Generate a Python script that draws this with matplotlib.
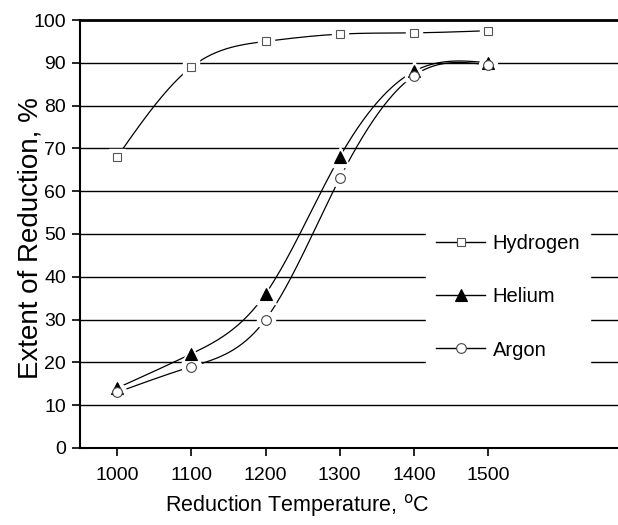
import numpy as np
import matplotlib.pyplot as plt

plt.rcParams['font.family'] = ['Liberation Sans', 'DejaVu Sans']

# reduction temperature (deg C) and extent of reduction (%)
temps = [1000, 1100, 1200, 1300, 1400, 1500]
hydrogen = [68, 89, 95, 96.7, 97, 97.5]
helium = [14, 22, 36, 68, 88, 90]
argon = [13, 19, 30, 63, 87, 89.5]


def natural_spline(x, y, n=300):
	"""Smooth curve through the points (natural cubic spline)"""
	x = np.asarray(x, float)
	y = np.asarray(y, float)
	k = len(x)
	h = np.diff(x)
	A = np.zeros((k, k))
	b = np.zeros(k)
	A[0, 0] = A[-1, -1] = 1
	for i in range(1, k - 1):
		A[i, i - 1] = h[i - 1]
		A[i, i] = 2 * (h[i - 1] + h[i])
		A[i, i + 1] = h[i]
		b[i] = 6 * ((y[i + 1] - y[i]) / h[i] - (y[i] - y[i - 1]) / h[i - 1])
	M = np.linalg.solve(A, b)
	xs = np.linspace(x[0], x[-1], n)
	idx = np.clip(np.searchsorted(x, xs) - 1, 0, k - 2)
	x0, x1 = x[idx], x[idx + 1]
	hh = x1 - x0
	t0, t1 = x1 - xs, xs - x0
	ys = (M[idx] * t0**3 + M[idx + 1] * t1**3) / (6 * hh) \
		+ (y[idx] / hh - M[idx] * hh / 6) * t0 \
		+ (y[idx + 1] / hh - M[idx + 1] * hh / 6) * t1
	return xs, ys


fig = plt.figure(figsize=(6.18, 5.25), dpi=100)
ax = fig.add_axes([80 / 618, 77 / 525, 540 / 618, 428 / 525])

for y in range(10, 100, 10):
	ax.axhline(y, color='black', lw=1.0, zorder=1)
ax.axhline(100, color='black', lw=2.0, zorder=1, clip_on=False)

series = [
	('Hydrogen', hydrogen, dict(marker='s', ms=6, mfc='white', mec='#555555', mew=0.8)),
	('Helium', helium, dict(marker='^', ms=8, mfc='black', mec='black', mew=0.8)),
	('Argon', argon, dict(marker='o', ms=7, mfc='white', mec='#444444', mew=0.8)),
]

for name, vals, mk in series:
	xs, ys = natural_spline(temps, vals)
	ax.plot(xs, ys, color='black', lw=0.9, zorder=2)
	# white halo so the curve stops short of each marker
	ax.plot(temps, vals, ls='none', marker=mk['marker'], ms=mk['ms'] + 6,
			mfc='white', mec='white', zorder=3)
	ax.plot(temps, vals, ls='none', zorder=4, **mk)
	ax.plot([], [], color='black', lw=1.0, label=name, **mk)

ax.set_xlim(950, 950 + 540 / 0.742)
ax.set_ylim(0, 100)
ax.set_xticks(temps)
ax.set_yticks(range(0, 101, 10))
ax.tick_params(direction='out', length=6, width=1.2, labelsize=14, pad=4)
ax.tick_params(axis='x', pad=8)
for side in ['top', 'right']:
	ax.spines[side].set_visible(False)
ax.spines['left'].set_linewidth(1.5)
ax.spines['bottom'].set_linewidth(1.5)

ax.set_xlabel('Reduction Temperature, $^{\\mathrm{o}}$C', fontsize=15.5)
ax.xaxis.set_label_coords((297 - 80) / 540, (448 - 492) / 428)
ax.set_ylabel('Extent of Reduction, %', fontsize=20)
ax.yaxis.set_label_coords((30 - 80) / 540, (448 - 238) / 428)
ax.yaxis.label.set_va('center')

leg = ax.legend(loc='upper left', bbox_to_anchor=(426 / 618, 1 - 224 / 525),
				bbox_transform=fig.transFigure, frameon=True,
				fontsize=14.5, handlelength=2.45, labelspacing=1.7,
				borderpad=0.5, handletextpad=0.35, borderaxespad=0)
leg.get_frame().set_edgecolor('white')
leg.get_frame().set_facecolor('white')
leg.get_frame().set_alpha(1.0)
leg.get_frame().set_boxstyle('square', pad=0)
leg.set_zorder(5)

fig.savefig('out.png', dpi=100)
